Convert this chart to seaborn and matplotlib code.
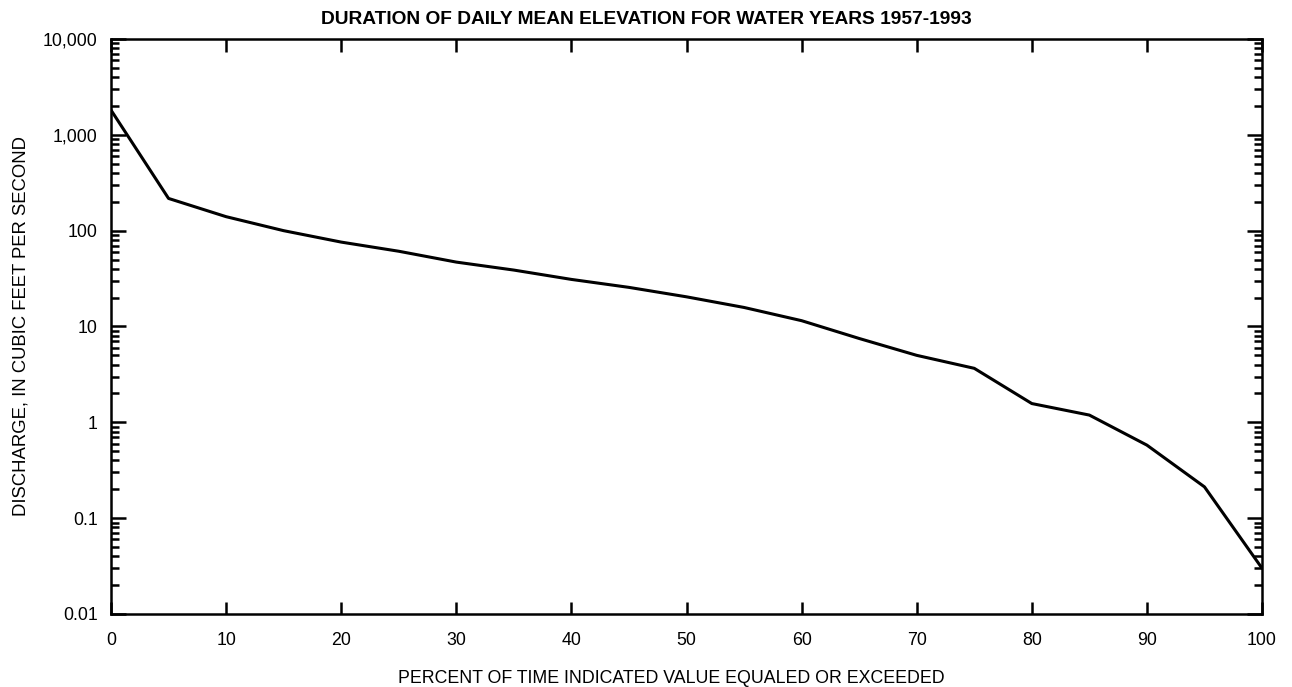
import numpy as np
import pandas as pd
import seaborn as sns
import matplotlib
matplotlib.use("Agg")
import matplotlib.pyplot as plt
from matplotlib.ticker import FixedLocator, LogLocator, NullFormatter

percent = [0, 5, 10, 15, 20, 25, 30, 35, 40, 45, 50, 55, 60, 65, 70, 75, 80, 85, 90, 95, 100]
discharge = [1815, 217, 140, 100, 76, 61, 47, 38.8, 31, 25.6, 20.4, 15.8, 11.5, 7.5, 5.0,
             3.66, 1.57, 1.19, 0.578, 0.212, 0.030]
x_ticks = [0, 10, 20, 30, 40, 50, 60, 70, 80, 90, 100]
y_ticks = [0.01, 0.1, 1, 10, 100, 1000, 10000]
y_tick_labels = ["0.01", "0.1", "1", "10", "100", "1,000", "10,000"]

sns.set_style("ticks")
plt.rcParams['font.family'] = ['Liberation Sans', 'DejaVu Sans']
plt.rcParams['text.color'] = 'black'
plt.rcParams['axes.labelcolor'] = 'black'
plt.rcParams['xtick.color'] = 'black'
plt.rcParams['ytick.color'] = 'black'
plt.rcParams['axes.edgecolor'] = 'black'

df = pd.DataFrame({"percent": percent, "discharge": discharge})

fig = plt.figure(figsize=(12.92, 6.87), dpi=100)
ax = fig.add_axes([0.0859, 0.1063, 0.9768 - 0.0859, 0.9432 - 0.1063])
sns.lineplot(data=df, x="percent", y="discharge", ax=ax, color="black", linewidth=2.2)
ax.set_yscale("log")
ax.set_xlim(0, 100)
ax.set_ylim(0.01, 10000)

ax.xaxis.set_major_locator(FixedLocator(x_ticks))
ax.set_xticklabels([str(v) for v in x_ticks])
ax.yaxis.set_major_locator(FixedLocator(y_ticks))
ax.yaxis.set_minor_locator(LogLocator(base=10, subs=np.arange(2, 10), numticks=20))
ax.yaxis.set_minor_formatter(NullFormatter())
ax.set_yticklabels(y_tick_labels)

for s in ax.spines.values():
    s.set_linewidth(1.8)
    s.set_visible(True)
ax.tick_params(which="major", direction="in", length=11, width=1.8, top=True, right=True,
               labelsize=12.8, colors="black", pad=9.5)
ax.tick_params(which="minor", direction="in", length=6, width=1.8, left=True, right=True)
ax.tick_params(axis="x", which="major", length=9, pad=13)

ax.set_xlabel("PERCENT OF TIME INDICATED VALUE EQUALED OR EXCEEDED", fontsize=12.8)
ax.xaxis.set_label_coords(0.487, -0.112, transform=ax.transAxes)
ax.xaxis.label.set_va("center")
ax.set_ylabel("DISCHARGE, IN CUBIC FEET PER SECOND", fontsize=13.3, labelpad=10)
fig.suptitle("DURATION OF DAILY MEAN ELEVATION FOR WATER YEARS 1957-1993", fontsize=13.8,
             fontweight="bold", x=0.5, y=1 - 19 / 687, va="center")

fig.savefig("out.png", dpi=100)
